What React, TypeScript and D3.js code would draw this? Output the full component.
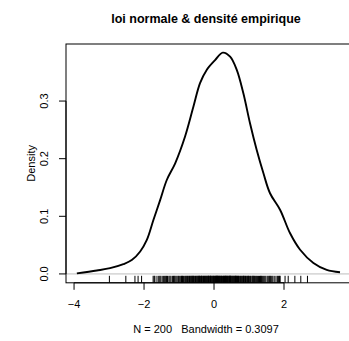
import React from "react";
import * as d3 from "d3";

const title = "loi normale & densité empirique";
const xLabel = "N = 200   Bandwidth = 0.3097";
const yLabel = "Density";
const xTicks = [-4, -2, 0, 2];
const yTicks = [0.0, 0.1, 0.2, 0.3];

// density curve points
const curveX = [-3.92, -3.35, -2.97, -2.59, -2.35, -2.11, -1.92, -1.73, -1.54, -1.35, -1.11, -0.83, -0.59, -0.40, -0.21, 0.03, 0.25, 0.46, 0.65, 0.84, 1.03, 1.22, 1.41, 1.60, 1.89, 2.17, 2.46, 2.84, 3.22, 3.60];
const curveY = [0.001, 0.006, 0.010, 0.017, 0.024, 0.039, 0.059, 0.094, 0.128, 0.163, 0.192, 0.238, 0.290, 0.331, 0.354, 0.371, 0.384, 0.377, 0.354, 0.313, 0.261, 0.215, 0.175, 0.140, 0.111, 0.071, 0.042, 0.019, 0.007, 0.003];

const rugValues = [
  -2.99, -2.52, -2.26, -2.17, -2.07,
  -1.74, -1.71, -1.69, -1.63, -1.58, -1.55, -1.52,
  -1.48, -1.44, -1.41, -1.38, -1.36, -1.33, -1.29, -1.26,
  -1.23, -1.19, -1.16, -1.14, -1.12, -1.09, -1.06, -1.03, -1.01,
  -0.98, -0.95, -0.93, -0.91, -0.9, -0.87, -0.85, -0.82, -0.8, -0.78, -0.76,
  -0.74, -0.72, -0.7, -0.68, -0.66, -0.65, -0.63, -0.61, -0.6, -0.59, -0.57, -0.55, -0.53, -0.51,
  -0.49, -0.48, -0.46, -0.44, -0.43, -0.42, -0.41, -0.39, -0.37, -0.36, -0.35, -0.34, -0.32, -0.3, -0.29, -0.27, -0.26,
  -0.24, -0.23, -0.21, -0.2, -0.18, -0.17, -0.16, -0.15, -0.14, -0.12, -0.11, -0.1, -0.09, -0.08, -0.06, -0.05, -0.03, -0.02, -0.01,
  0.01, 0.02, 0.04, 0.05, 0.06, 0.07, 0.08, 0.09, 0.1, 0.11, 0.12, 0.13, 0.15, 0.16, 0.17, 0.19, 0.2, 0.21, 0.22, 0.24,
  0.26, 0.27, 0.28, 0.3, 0.31, 0.32, 0.33, 0.34, 0.35, 0.36, 0.38, 0.39, 0.4, 0.42, 0.43, 0.44, 0.45, 0.46, 0.47, 0.48, 0.49,
  0.51, 0.52, 0.54, 0.55, 0.57, 0.58, 0.6, 0.61, 0.62, 0.63, 0.64, 0.66, 0.67, 0.69, 0.7, 0.72, 0.74,
  0.76, 0.78, 0.8, 0.82, 0.84, 0.85, 0.86, 0.88, 0.9, 0.92, 0.94, 0.96, 0.98, 0.99,
  1.01, 1.04, 1.06, 1.09, 1.11, 1.12, 1.14, 1.16, 1.19, 1.21, 1.24,
  1.27, 1.3, 1.33, 1.34, 1.36, 1.39, 1.42, 1.45, 1.48,
  1.52, 1.55, 1.58, 1.6, 1.62, 1.65, 1.68, 1.72,
  1.77, 1.81, 1.84, 1.87, 1.89,
  2.03, 2.12, 2.31, 2.48, 2.67,
];

const W = 349;
const H = 341;
const FONT = "'Liberation Sans', Arial, Helvetica, sans-serif";

export default function App() {
  const x = d3.scaleLinear().domain([-4.23, 3.9]).range([66, 350.5]);
  const y = d3.scaleLinear().domain([-0.0154, 0.399]).range([282.8, 44]);
  const pts: [number, number][] = curveX.map((v, i) => [v, curveY[i]]);
  const line = d3
    .line<[number, number]>()
    .x((d) => x(d[0]))
    .y((d) => y(d[1]))
    .curve(d3.curveCatmullRom.alpha(0.5));
  const [x0, x1] = x.range();
  const [yb, yt] = y.range();
  const rugLen = 7;
  return (
    <svg
      width={W}
      height={H}
      style={{ position: "absolute", left: 0, top: 0, background: "#fff" }}
      fontFamily={FONT}
    >
      <rect x={0} y={0} width={W} height={H} fill="#fff" />
      <text x={206} y={23} textAnchor="middle" fontSize={12.5} fontWeight="bold">
        {title}
      </text>
      {/* zero line */}
      <line x1={x0} x2={x1} y1={y(0)} y2={y(0)} stroke="#bebebe" strokeWidth={1} />
      {/* density */}
      <path d={line(pts) || ""} fill="none" stroke="#000" strokeWidth={1.9} />
      {/* rug */}
      {rugValues.map((v, i) => (
        <line key={i} x1={x(v)} x2={x(v)} y1={yb} y2={yb - rugLen} stroke="#000" strokeWidth={1} />
      ))}
      {/* box */}
      <rect x={x0} y={yt} width={x1 - x0} height={yb - yt} fill="none" stroke="#000" strokeWidth={1} />
      {/* x axis */}
      <line x1={x(xTicks[0])} x2={x(xTicks[xTicks.length - 1])} y1={yb} y2={yb} stroke="#000" />
      {xTicks.map((t) => (
        <g key={t}>
          <line x1={x(t)} x2={x(t)} y1={yb} y2={yb + 7} stroke="#000" />
          <text x={x(t)} y={yb + 25} textAnchor="middle" fontSize={11}>
            {t < 0 ? "\u2212" + Math.abs(t) : String(t)}
          </text>
        </g>
      ))}
      {/* y axis */}
      <line x1={x0} x2={x0} y1={y(yTicks[0])} y2={y(yTicks[yTicks.length - 1])} stroke="#000" />
      {yTicks.map((t) => (
        <g key={t}>
          <line x1={x0} x2={x0 - 7} y1={y(t)} y2={y(t)} stroke="#000" />
          <text
            transform={`translate(${x0 - 18},${y(t)}) rotate(-90)`}
            textAnchor="middle"
            fontSize={11}
          >
            {t.toFixed(1)}
          </text>
        </g>
      ))}
      <text x={206} y={333} textAnchor="middle" fontSize={11} style={{ whiteSpace: "pre" }}>
        {xLabel}
      </text>
      <text transform={`translate(35,${(yb + yt) / 2}) rotate(-90)`} textAnchor="middle" fontSize={11}>
        {yLabel}
      </text>
    </svg>
  );
}
